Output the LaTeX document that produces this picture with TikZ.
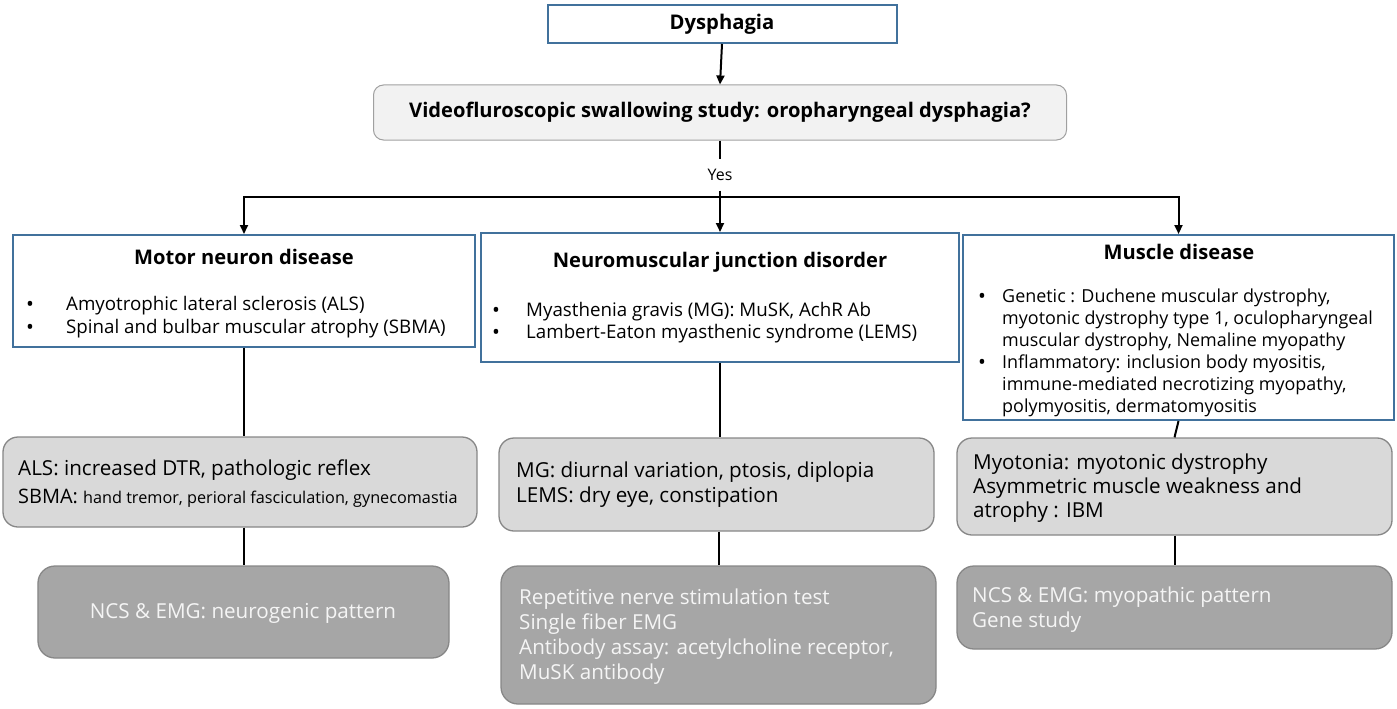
\documentclass[tikz,border=0pt]{standalone}
\usepackage{fontspec}
\setmainfont{Open Sans}
\usetikzlibrary{arrows.meta}
\definecolor{bbor}{RGB}{65,113,156}
\definecolor{qfill}{RGB}{242,242,242}
\definecolor{qline}{RGB}{160,160,160}
\definecolor{lfill}{RGB}{217,217,217}
\definecolor{dfill}{RGB}{166,166,166}
\definecolor{gline}{RGB}{135,135,135}
\definecolor{wtext}{RGB}{245,245,245}
\tikzset{
  bluebox/.style={draw=bbor, line width=2bp, fill=white, inner sep=0pt, rectangle},
  qbox/.style={draw=qline, fill=qfill, rounded corners=10bp, line width=1bp, inner sep=0pt},
  lbox/.style={draw=gline, fill=lfill, rounded corners=15bp, line width=1.3bp, inner sep=0pt},
  dbox/.style={draw=gline, fill=dfill, rounded corners=17bp, line width=1.3bp, inner sep=0pt},
  conn/.style={line width=2bp},
  hconn/.style={line width=2.6bp},
  arr/.style={line width=2bp, -{Triangle[length=9bp,width=8bp]}},
  txt/.style={inner sep=0pt, anchor=west, align=left},
  f16/.style={font=\fontsize{18.8}{22}\selectfont},
  fmus/.style={font=\fontsize{18}{22}\selectfont},
  f18/.style={font=\fontsize{20.7}{25}\selectfont},
  bul/.style={inner sep=0pt, anchor=west, font=\fontsize{21}{22}\selectfont},
  ttl/.style={inner sep=0pt, font=\bfseries\fontsize{20.2}{24}\selectfont},
}
\begin{document}
\begin{tikzpicture}[x=1bp,y=-1bp]
\useasboundingbox (0,0) rectangle (1397,708);

% top
\node[bluebox, minimum width=349bp, minimum height=38bp, font=\bfseries\fontsize{20.3}{24}\selectfont] (dys) at (722,24) {Dysphagia};
\node[qbox, minimum width=693bp, minimum height=55bp, font=\bfseries\fontsize{20.2}{24}\selectfont] (vfss) at (720,112.5) {Videofluroscopic swallowing study: oropharyngeal dysphagia?};
\draw[arr] (dys.south) -- (vfss.north);
\node[inner sep=0pt, minimum height=31bp, font=\fontsize{16}{18}\selectfont] (yes) at (720,175) {Yes};
\draw[conn] (vfss.south) -- (yes.north);

% second row boxes
\node[bluebox, minimum width=462bp, minimum height=112bp] (mnd) at (244,291) {};
\node[bluebox, minimum width=478bp, minimum height=129bp] (nmj) at (720,297.5) {};
\node[bluebox, minimum width=431bp, minimum height=185bp] (mus) at (1178.5,327.5) {};

\coordinate (hm) at (720,197);
\coordinate (hl) at (mnd.north |- hm);
\coordinate (hr) at (mus.north |- hm);
\draw[hconn] ([xshift=-1bp]hl) -- ([xshift=1bp]hr);
\draw[conn] (yes.south) -- (hm);
\draw[arr] (hl) -- (mnd.north);
\draw[arr] (hm) -- (nmj.north);
\draw[arr] (hr) -- (mus.north);

% motor neuron text
\node[ttl] (mndt) at (244,257) {Motor neuron disease};
\node[bul] (mndb1) at (26,306) {•};
\node[bul] (mndb2) at (26,329) {•};
\node[txt, f16] (mnd1) at (66,306) {Amyotrophic lateral sclerosis (ALS)};
\node[txt, f16] (mnd2) at (66,329) {Spinal and bulbar muscular atrophy (SBMA)};

% nmj text
\node[ttl] (nmjt) at (720,262) {Neuromuscular junction disorder};
\node[bul] (nmjb1) at (492,312) {•};
\node[bul] (nmjb2) at (492,334) {•};
\node[txt, f16] (nmj1) at (526,312) {Myasthenia gravis (MG): MuSK, AchR Ab};
\node[txt, f16] (nmj2) at (526,334) {Lambert-Eaton myasthenic syndrome (LEMS)};

% muscle text
\node[ttl] (must) at (1179,252) {Muscle disease};
\node[bul] (musb1) at (978,298) {•};
\node[bul] (musb2) at (978,364) {•};
\node[txt, fmus] (mus1) at (1002,320) {Genetic : Duchene muscular dystrophy,\\myotonic dystrophy type 1, oculopharyngeal\\muscular dystrophy, Nemaline myopathy};
\node[txt, fmus] (mus2) at (1002,386) {Inflammatory: inclusion body myositis,\\immune-mediated necrotizing myopathy,\\polymyositis, dermatomyositis};

% third row
\node[lbox, minimum width=474bp, minimum height=90bp] (g1) at (240,482) {};
\node[lbox, minimum width=435bp, minimum height=93bp] (g2) at (716.5,484.5) {};
\node[lbox, minimum width=435bp, minimum height=97bp] (g3) at (1174.5,486.5) {};
\node[txt, f18] (g1a) at (18,470) {ALS: increased DTR, pathologic reflex};
\node[txt, font=\fontsize{20}{25}\selectfont] (g1b) at (18,498) {SBMA: {\fontsize{16.3}{20}\selectfont hand tremor, perioral fasciculation, gynecomastia}};
\node[txt, f18] (g2a) at (516,472) {MG: diurnal variation, ptosis, diplopia};
\node[txt, f18] (g2b) at (516,497) {LEMS: dry eye, constipation};
\node[txt, f18] (g3a) at (973,464) {Myotonia: myotonic dystrophy};
\node[txt, f18] (g3b) at (973,488) {Asymmetric muscle weakness and};
\node[txt, f18] (g3c) at (973,512) {atrophy : IBM};

\draw[conn] (mnd.south) -- (mnd.south |- g1.north);
\draw[conn] (nmj.south) -- (nmj.south |- g2.north);
\draw[conn] (mus.south) -- (g3.north);

% fourth row
\node[dbox, minimum width=411bp, minimum height=92bp] (d1) at (243.5,612) {};
\node[dbox, minimum width=435bp, minimum height=138bp] (d2) at (718.5,635) {};
\node[dbox, minimum width=435bp, minimum height=83bp] (d3) at (1174.5,607.5) {};
\node[inner sep=0pt, text=wtext, f18] (d1a) at (243,613) {NCS \& EMG: neurogenic pattern};
\node[txt, text=wtext, f18] (d2a) at (519,599) {Repetitive nerve stimulation test};
\node[txt, text=wtext, f18] (d2b) at (519,624) {Single fiber EMG};
\node[txt, text=wtext, f18] (d2c) at (519,649) {Antibody assay: acetylcholine receptor,};
\node[txt, text=wtext, f18] (d2d) at (519,674) {MuSK antibody};
\node[txt, text=wtext, f18] (d3a) at (972,597) {NCS \& EMG: myopathic pattern};
\node[txt, text=wtext, f18] (d3b) at (972,622) {Gene study};

\draw[conn] (d1.north |- g1.south) -- (d1.north);
\draw[conn] (d2.north |- g2.south) -- (d2.north);
\draw[conn] (g3.south) -- (d3.north);
\end{tikzpicture}
\end{document}
